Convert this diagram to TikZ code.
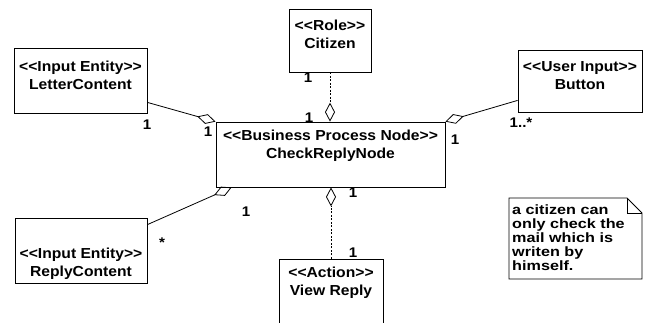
\documentclass[tikz,border=0pt]{standalone}
\usepackage{fontspec}
\setmainfont{Liberation Sans}[FakeStretch=1.08]
\newfontfamily\notefont{Liberation Sans}[FakeStretch=1.2]
\usetikzlibrary{arrows.meta,calc}
\begin{document}
\begin{tikzpicture}[x=1pt,y=-1pt,
  box/.style={draw, line width=0.8pt, inner sep=0pt},
  stereo/.style={align=center, font=\fontsize{14.5}{18}\selectfont\bfseries, inner sep=0pt},
  notetext/.style={align=left, font=\notefont\fontsize{13.5}{14}\selectfont\bfseries, inner sep=0pt, anchor=north west},
  mult/.style={font=\fontsize{14}{16}\selectfont\bfseries, inner sep=0pt},
  conn/.style={line width=0.8pt},
  dconn/.style={line width=0.8pt, dash pattern=on 2pt off 1.5pt},
  agg/.style={-{Diamond[open, length=19pt, width=10pt, line width=0.8pt]}},
]
\useasboundingbox (0,0) rectangle (653,322);
\clip (0,0) rectangle (653,322);

% boxes
\node[box, minimum width=133pt, minimum height=65pt] (letter) at (80.5,80.5) {};
\node[stereo] (letterT) at (80.5,75.5) {<{}<Input Entity>{}>\\LetterContent};

\node[box, minimum width=82pt, minimum height=63pt] (citizen) at (330,40.5) {};
\node[stereo] (citizenT) at (330,34.5) {<{}<Role>{}>\\Citizen};

\node[box, minimum width=124pt, minimum height=62pt] (button) at (580,81) {};
\node[stereo] (buttonT) at (580,76) {<{}<User Input>{}>\\Button};

\node[box, minimum width=229pt, minimum height=65pt] (central) at (330.5,154.5) {};
\node[stereo] (centralT) at (330.5,146) {<{}<Business Process Node>{}>\\CheckReplyNode};

\node[box, minimum width=132pt, minimum height=65pt] (reply) at (81,250.5) {};
\node[stereo] (replyT) at (81,264) {<{}<Input Entity>{}>\\ReplyContent};

\node[box, minimum width=104pt, minimum height=81pt] (view) at (331,299.5) {};
\node[stereo] (viewT) at (331,283) {<{}<Action>{}>\\View Reply};

% note
\draw[line width=0.8pt] (509,198) -- (627,198) -- (642,213) -- (642,279) -- (509,279) -- cycle;
\draw[line width=0.8pt] (627,198) -- (627,213) -- (642,213);
\node[notetext] (note) at (512,205) {a citizen can\\only check the\\mail which is\\writen by\\himself.};

% connectors
\coordinate (lcA) at ($(letter.south east)+(0,-11)$);
\draw[conn,agg] (lcA) -- (central.north west);

\draw[dconn,agg] (citizen.south) -- (citizen.south |- central.north);

\coordinate (btA) at ($(button.south west)+(0,-12)$);
\draw[conn,agg] (btA) -- (central.north east);

\coordinate (rcA) at ($(reply.north east)+(0,7)$);
\coordinate (crB) at ($(central.south west)+(16,0)$);
\draw[conn,agg] (rcA) -- (crB);

\draw[dconn,agg] (view.north) -- (view.north |- central.south);

% multiplicities
\node[mult] (m1) at (147,125) {1};
\node[mult] (m2) at (208,132) {1};
\node[mult] (m3) at (308,78) {1};
\node[mult] (m4) at (309,118) {1};
\node[mult] (m5) at (455,140) {1};
\node[mult] (m6) at (521,123) {1..*};
\node[mult] (m7) at (162,243) {*};
\node[mult] (m8) at (246,212) {1};
\node[mult] (m9) at (353,193) {1};
\node[mult] (m10) at (353,253) {1};
\end{tikzpicture}
\end{document}
